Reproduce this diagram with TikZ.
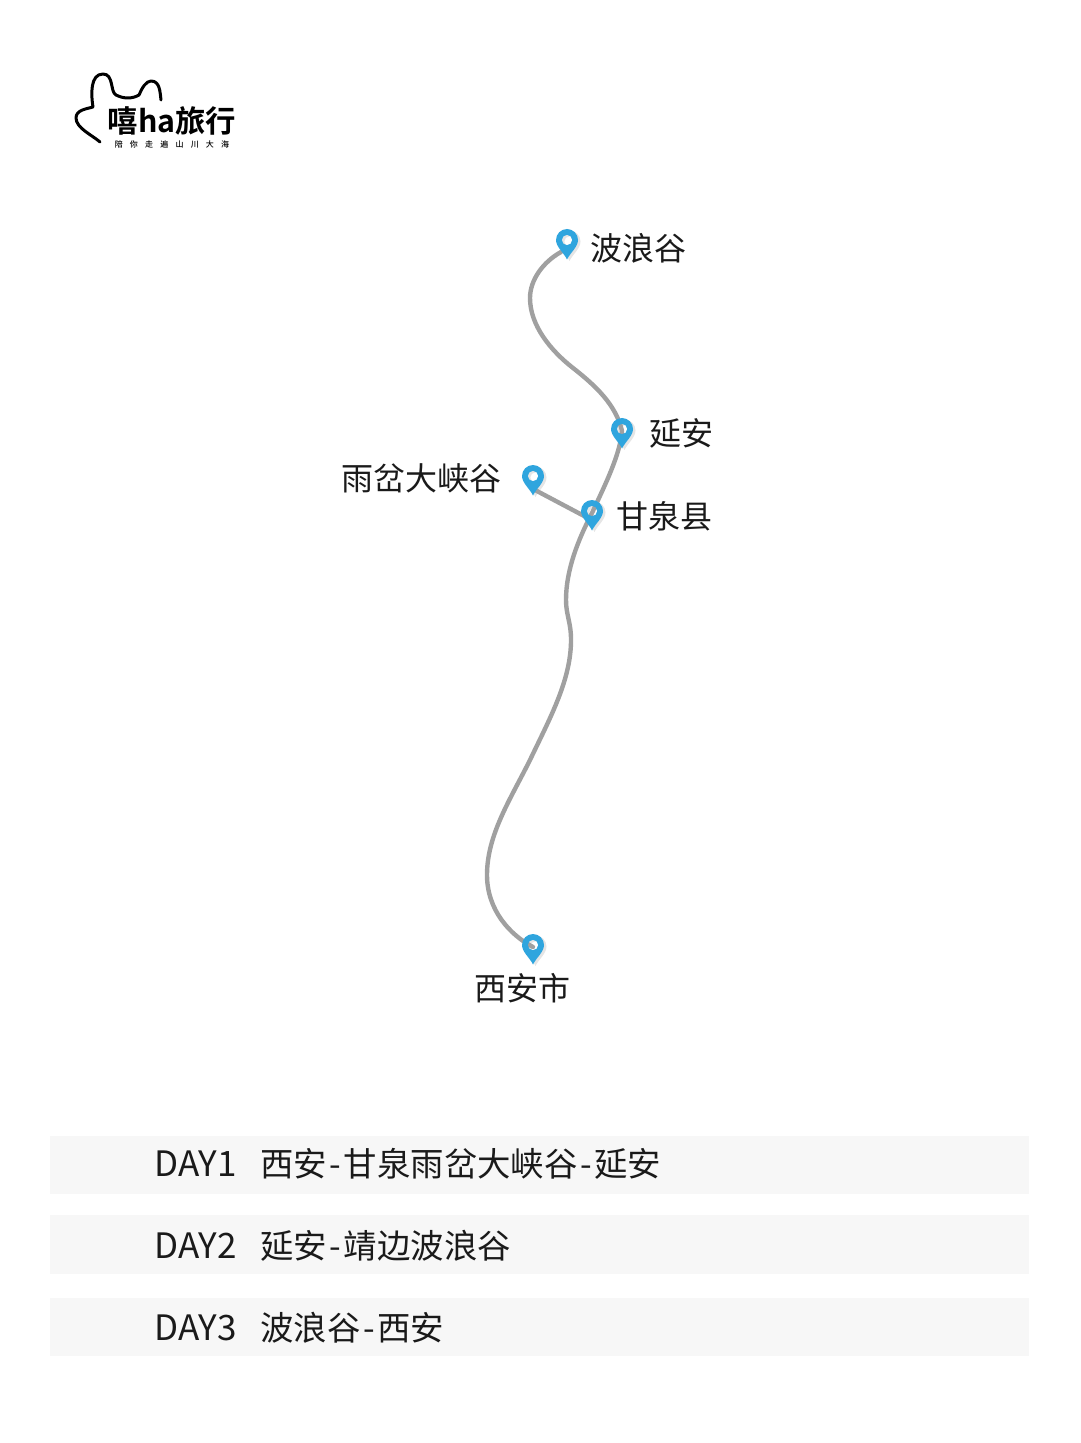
\documentclass[tikz,border=0pt]{standalone}
\usepackage{fontspec}
\setmainfont{Noto Sans CJK SC}
\newfontfamily\logofont{Noto Sans CJK SC Bold}
\newfontfamily\tinyfont[LetterSpace=90]{Noto Sans CJK SC Medium}
\definecolor{pinblue}{HTML}{2FA5DE}
\definecolor{routegray}{HTML}{A0A0A0}
\definecolor{barbg}{HTML}{F7F7F7}
\definecolor{ink}{HTML}{1A1A1A}
\tikzset{
  x=0.5pt,y=-0.5pt,
  route/.style={draw=routegray,line width=2.2pt,line cap=round},
  pinmark/.pic={\fill[pinblue,even odd rule] (0,17.5) .. controls (-3,11) and (-11,5) .. (-11,-2) arc[start angle=180,end angle=360,radius=11] .. controls (11,5) and (3,11) .. (0,17.5) -- cycle (0,-2) circle[radius=5.2];},
  pinshadow/.pic={\fill[black,opacity=0.10,even odd rule] (2.5,19) .. controls (-0.5,12.5) and (-8.5,6.5) .. (-8.5,-0.5) arc[start angle=180,end angle=360,radius=11] .. controls (13.5,6.5) and (5.5,12.5) .. (2.5,19) -- cycle (2.5,-0.5) circle[radius=5.2];},
  place/.style={font=\fontsize{16}{16}\selectfont,text=ink,inner sep=0pt},
  daybar/.style={fill=barbg,draw=none},
  daylabel/.style={font=\fontsize{17.5}{17.5}\selectfont,text=ink,inner sep=0pt,anchor=base west},
  daytext/.style={font=\fontsize{16.7}{16.7}\selectfont,text=ink,inner sep=0pt,anchor=base west},
  handline/.style={draw=black,line width=1.5pt,line cap=round,line join=round},
}
\begin{document}
\begin{tikzpicture}
\useasboundingbox (0,0) rectangle (1080,1443);
\fill[white] (0,0) rectangle (1080,1443);
% logo
\draw[handline] (100,142) .. controls (92,135) and (76,128) .. (76,118)
  .. controls (76,110) and (86,109) .. (93,107)
  .. controls (91,95) and (90,74) .. (103,74)
  .. controls (114,74) and (110,92) .. (116,95)
  .. controls (124,99) and (132,99) .. (139,95)
  .. controls (142,88) and (146,81) .. (151,81)
  .. controls (160,81) and (160,92) .. (161,100);
\node[inner sep=0pt,anchor=center,text=black,font=\logofont\fontsize{15.2}{15}\selectfont] (logotext) at (172,121) {嘻ha旅行};
\node[inner sep=0pt,anchor=center,text=black,font=\tinyfont\fontsize{4}{4}\selectfont] (logosub) at (172,144) {陪你走遍山川大海};
% route
\coordinate (bolang) at (567,242);
\coordinate (bolangtail) at (561,252);
\coordinate (yanan) at (622,431);
\coordinate (yucha) at (533,478);
\coordinate (yuchatail) at (535,490);
\coordinate (ganquan) at (592,513);
\coordinate (ganquanjoin) at (586,517);
\coordinate (xian) at (533,947);
\pic at (bolang) {pinshadow};
\pic at (yanan) {pinshadow};
\pic at (yucha) {pinshadow};
\pic at (ganquan) {pinshadow};
\pic at (xian) {pinshadow};
\path[route] (bolangtail) .. controls (543,262) and (530,280) .. (530,298)
  .. controls (530,325) and (550,350) .. (573,368)
  .. controls (596,386) and (616,405) .. (yanan)
  .. controls (620,455) and (605,485) .. (ganquan)
  .. controls (578,540) and (566,570) .. (566,600)
  .. controls (566,615) and (571,622) .. (571,640)
  .. controls (571,680) and (550,718) .. (530,760)
  .. controls (510,800) and (487,835) .. (487,875)
  .. controls (487,910) and (510,935) .. (xian);
\path[route] (yuchatail) -- (ganquanjoin);
\pic at (bolang) {pinmark};
\pic at (yanan) {pinmark};
\pic at (yucha) {pinmark};
\pic at (ganquan) {pinmark};
\pic at (xian) {pinmark};
\node[place] (lbolang) at (638,248) {波浪谷};
\node[place] (lyanan) at (681,433) {延安};
\node[place] (lyucha) at (421,478) {雨岔大峡谷};
\node[place] (lganquan) at (664,516) {甘泉县};
\node[place] (lxian) at (522,988) {西安市};
% day bars
\fill[daybar] (50,1136) rectangle (1029,1194);
\fill[daybar] (50,1215) rectangle (1029,1274);
\fill[daybar] (50,1298) rectangle (1029,1356);
\node[daylabel] (d1) at (154,1176) {DAY1};
\node[daytext] (t1) at (260,1176) {西安\hspace{1.3pt}-\hspace{1.3pt}甘泉雨岔大峡谷\hspace{1.3pt}-\hspace{1.3pt}延安};
\node[daylabel] (d2) at (154,1258) {DAY2};
\node[daytext] (t2) at (260,1258) {延安\hspace{1.3pt}-\hspace{1.3pt}靖边波浪谷};
\node[daylabel] (d3) at (154,1340) {DAY3};
\node[daytext] (t3) at (260,1340) {波浪谷\hspace{1.3pt}-\hspace{1.3pt}西安};
\end{tikzpicture}
\end{document}
